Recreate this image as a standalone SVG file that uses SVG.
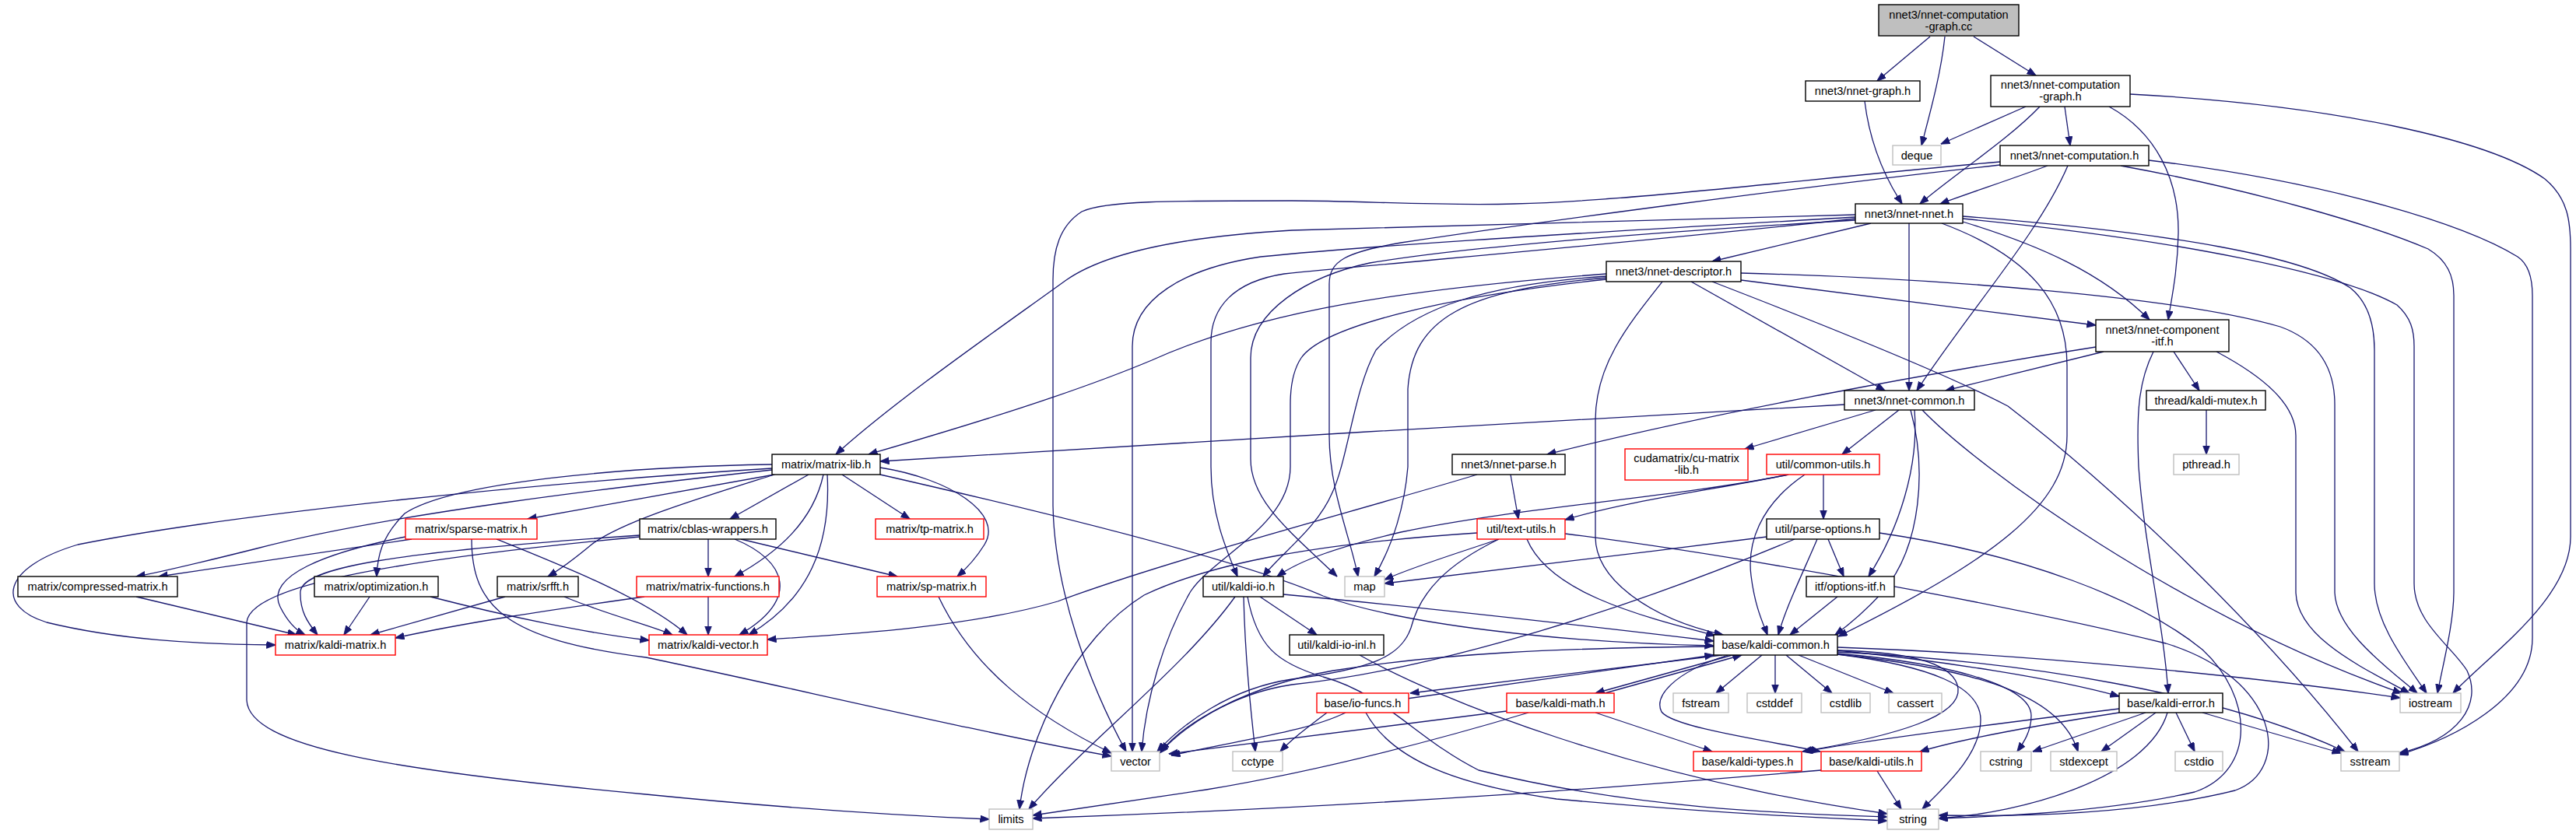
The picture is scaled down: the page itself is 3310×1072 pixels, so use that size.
<svg xmlns="http://www.w3.org/2000/svg" width="3310" height="1072" viewBox="0 0 3310 1072">
<defs>
<marker id="ah" markerUnits="userSpaceOnUse" markerWidth="12" markerHeight="10" refX="11.5" refY="4.5" orient="auto">
<path d="M0,0 L12,4.5 L0,9 z" fill="#191970" stroke="#191970" stroke-width="0.8"/>
</marker>
</defs>
<style>
rect{stroke-width:1.4}
.b{fill:#fff;stroke:#000}
.r{fill:#fff;stroke:#ff0000}
.g{fill:#fff;stroke:#bfbfbf}
.root{fill:#bfbfbf;stroke:#000}
text{font-family:"Liberation Sans",Arial,sans-serif;font-size:14.6px;text-anchor:middle;fill:#000}
#edges path{fill:none;stroke:#191970;stroke-width:1.3;marker-end:url(#ah)}
</style>
<rect x="0" y="0" width="3310" height="1072" fill="#fff"/>
<g id="edges">
<path d="M2480,47 L2412,104"/>
<path d="M2499,47 C2494,95 2480,145 2469,187"/>
<path d="M2536,47 L2616,97"/>
<path d="M2396,130 C2402,180 2420,225 2444,262"/>
<path d="M2603,137 L2494,185"/>
<path d="M2621,137 C2580,180 2510,225 2467,262"/>
<path d="M2653,137 L2660,187"/>
<path d="M2710,137 C2770,170 2800,230 2799,300 C2798,350 2790,385 2786,411"/>
<path d="M2737,121 C3000,135 3200,180 3270,230 C3300,255 3303,285 3303,320 L3303,690 C3303,770 3200,840 3152,891"/>
<path d="M2631,213 C2580,232 2530,248 2493,262"/>
<path d="M2657,213 C2620,300 2530,400 2463,502"/>
<path d="M2570,208 C2300,232 2100,258 1946,262 C1850,265 1750,258 1660,258 C1500,258 1420,258 1390,272 C1362,290 1353,320 1353,360 L1353,650 C1355,760 1400,880 1447,966"/>
<path d="M2570,212 C2300,242 2000,282 1800,312 C1730,324 1708,335 1708,365 L1708,560 C1708,630 1735,690 1745,741"/>
<path d="M2725,213 C2900,245 3050,290 3120,320 C3145,335 3153,355 3153,380 L3153,760 C3153,800 3140,850 3132,891"/>
<path d="M2761,206 C3000,235 3170,290 3235,330 C3250,340 3254,360 3254,380 L3254,820 C3254,900 3150,950 3083,970"/>
<path d="M2404,287 L2200,336"/>
<path d="M2453,287 L2453,502"/>
<path d="M2522,285 C2620,315 2700,350 2762,411"/>
<path d="M2495,287 C2610,330 2656,390 2656,470 L2656,560 C2656,650 2560,720 2362,818"/>
<path d="M2522,278 C2800,300 2960,330 3020,370 C3045,390 3051,420 3051,450 L3051,750 C3051,800 3090,850 3118,891"/>
<path d="M2522,281 C2800,308 3010,352 3080,392 C3098,408 3102,425 3102,445 L3102,750 C3102,800 3150,830 3170,862 C3190,905 3160,950 3083,968"/>
<path d="M2384,276 C2100,284 1800,290 1660,296 C1520,304 1420,325 1370,360 C1280,425 1150,515 1074,584"/>
<path d="M2384,279 C2100,296 1800,312 1620,330 C1520,345 1455,385 1455,445 L1455,966"/>
<path d="M2384,281 C2100,312 1800,337 1650,352 C1585,362 1556,395 1556,440 L1556,600 C1556,660 1575,705 1590,741"/>
<path d="M2384,283 C2100,300 1880,318 1760,338 C1680,355 1607,400 1607,460 L1607,590 C1607,645 1660,685 1718,741"/>
<path d="M2064,352 C1800,372 1620,400 1480,463 C1380,505 1250,545 1116,584"/>
<path d="M2064,355 C1909,366 1819,395 1768,450 C1740,500 1732,590 1712,633 C1692,680 1645,712 1623,741"/>
<path d="M2064,357 C1880,373 1815,410 1809,500 L1809,600 C1805,650 1790,700 1766,741"/>
<path d="M2064,359 C1850,382 1700,420 1672,460 C1660,478 1658,500 1658,520 L1658,600 C1658,675 1560,715 1530,760 C1495,820 1472,900 1467,966"/>
<path d="M2136,362 C2090,420 2050,470 2050,540 L2050,690 C2050,745 2120,795 2214,816"/>
<path d="M2173,362 L2422,502"/>
<path d="M2200,362 C2350,420 2500,480 2580,522 C2720,630 2900,800 3030,966"/>
<path d="M2237,351 C2500,358 2800,382 2930,420 C2985,440 3000,480 3000,520 L3000,760 C3000,810 3070,860 3106,891"/>
<path d="M2237,360 L2693,418"/>
<path d="M2703,452 L2500,502"/>
<path d="M2693,446 C2500,476 2200,530 1988,584"/>
<path d="M2767,452 C2748,490 2745,530 2748,600 C2755,700 2780,800 2786,891"/>
<path d="M2793,452 L2826,502"/>
<path d="M2848,452 C2910,485 2950,520 2950,560 L2950,760 C2950,820 3040,860 3096,891"/>
<path d="M2835,527 L2835,584"/>
<path d="M2370,520 C2000,540 1500,570 1131,593"/>
<path d="M2410,527 L2242,577"/>
<path d="M2440,527 L2367,584"/>
<path d="M2455,527 C2475,600 2470,700 2420,760 C2400,782 2380,800 2358,816"/>
<path d="M2460,527 C2466,600 2440,680 2401,741"/>
<path d="M2470,527 C2540,600 2800,790 3086,891"/>
<path d="M1941,610 L1951,667"/>
<path d="M1898,610 C1750,655 1500,720 1359,773 C1250,805 1100,815 986,822"/>
<path d="M2298,610 C2200,630 2100,642 2011,668"/>
<path d="M2298,610 C2150,640 1950,652 1800,684 C1720,703 1670,720 1641,741"/>
<path d="M2343,610 L2343,667"/>
<path d="M2319,610 C2260,650 2245,700 2250,740 C2255,780 2265,800 2271,816"/>
<path d="M2270,690 C2100,712 1900,735 1779,750"/>
<path d="M2306,693 C2100,780 1850,860 1660,880 C1580,892 1520,935 1490,968"/>
<path d="M2335,693 C2315,740 2295,780 2285,816"/>
<path d="M2349,693 L2369,741"/>
<path d="M2415,685 C2600,712 2750,770 2830,835 C2895,895 2900,990 2820,1018 C2700,1045 2550,1050 2491,1052"/>
<path d="M2361,767 L2300,816"/>
<path d="M1926,693 C1870,712 1820,727 1779,745"/>
<path d="M1926,693 C1860,725 1825,760 1813,807 C1800,845 1760,860 1660,873 C1580,885 1520,930 1487,966"/>
<path d="M1962,693 C1990,760 2100,790 2204,817"/>
<path d="M1898,685 C1700,698 1560,722 1470,765 C1380,820 1320,950 1310,1040"/>
<path d="M2011,686 C2250,716 2600,782 2783,827 C2930,872 2945,990 2872,1016 C2750,1046 2600,1050 2491,1048"/>
<path d="M1587,767 C1520,860 1400,950 1322,1040"/>
<path d="M1598,767 C1600,850 1608,920 1613,966"/>
<path d="M1619,767 L1692,816"/>
<path d="M1649,764 C1800,778 2000,800 2202,824"/>
<path d="M1603,767 C1615,830 1640,852 1700,870 C1780,892 1820,950 1900,990 C2100,1040 2300,1046 2425,1050"/>
<path d="M1747,842 C1850,900 2100,1000 2425,1046"/>
<path d="M1039,610 L938,667"/>
<path d="M1082,610 L1169,667"/>
<path d="M1058,610 C1045,670 1000,710 944,741"/>
<path d="M1063,610 C1068,700 1040,770 962,816"/>
<path d="M1131,601 C1220,615 1290,660 1265,700 C1255,716 1245,728 1230,741"/>
<path d="M1131,610 C1350,660 1600,722 1700,766 C1800,802 2000,826 2202,830"/>
<path d="M992,597 C800,600 580,620 520,660 C490,690 485,715 484,741"/>
<path d="M992,602 C700,620 300,660 100,700 C0,730 -5,780 60,800 C150,822 250,828 354,829"/>
<path d="M992,604 C800,625 500,660 330,705 C270,720 210,735 175,741"/>
<path d="M995,610 L678,667"/>
<path d="M995,610 C900,640 800,670 760,700 C736,720 716,734 704,741"/>
<path d="M529,693 L204,741"/>
<path d="M521,690 C420,710 340,740 360,780 C370,800 380,810 392,816"/>
<path d="M638,693 C730,730 830,770 883,816"/>
<path d="M606,693 C606,780 650,822 830,845 C1000,880 1250,940 1428,972"/>
<path d="M910,693 L910,741"/>
<path d="M944,693 C1010,720 1030,770 950,816"/>
<path d="M952,693 L1153,741"/>
<path d="M822,688 C500,710 390,730 386,760 C385,785 395,800 408,816"/>
<path d="M822,690 C450,725 320,760 317,800 L317,900 C320,960 500,990 830,1021 C1000,1038 1150,1048 1271,1053"/>
<path d="M175,767 L381,816"/>
<path d="M475,767 L442,816"/>
<path d="M553,767 C650,792 760,815 834,823"/>
<path d="M649,767 L476,816"/>
<path d="M725,767 C780,790 840,805 864,816"/>
<path d="M828,767 C700,785 600,800 508,820"/>
<path d="M910,767 L910,816"/>
<path d="M1206,767 C1250,860 1330,920 1428,968"/>
<path d="M2264,842 L2205,891"/>
<path d="M2281,842 L2281,891"/>
<path d="M2295,842 L2354,891"/>
<path d="M2311,842 L2433,891"/>
<path d="M2213,842 L1812,891"/>
<path d="M1808,898 L2202,842"/>
<path d="M2226,842 L2050,891"/>
<path d="M2062,891 L2238,842"/>
<path d="M2220,842 C2150,865 2125,895 2135,915 C2150,935 2270,952 2339,966"/>
<path d="M2361,836 C2450,838 2512,852 2516,885 C2520,920 2440,945 2316,966"/>
<path d="M2361,836 C2500,850 2640,872 2723,895"/>
<path d="M2361,832 C2600,840 2900,870 3084,897"/>
<path d="M2361,838 C2600,850 2850,890 3013,966"/>
<path d="M2361,840 C2500,852 2610,880 2610,920 C2610,940 2600,955 2592,966"/>
<path d="M2361,841 C2560,862 2650,900 2670,966"/>
<path d="M2361,841 C2480,856 2545,882 2545,925 C2545,970 2500,1010 2470,1040"/>
<path d="M2202,831 C2000,833 1850,840 1713,862 C1600,882 1520,930 1492,966"/>
<path d="M1729,916 C1680,940 1600,950 1505,971"/>
<path d="M1705,916 C1680,935 1660,950 1645,966"/>
<path d="M1755,916 C1790,980 1880,1010 2000,1027 C2200,1045 2350,1052 2425,1055"/>
<path d="M1936,914 C1800,930 1660,950 1502,969"/>
<path d="M1964,916 C1850,950 1700,990 1550,1015 C1450,1030 1380,1040 1327,1048"/>
<path d="M2050,916 L2200,966"/>
<path d="M2723,911 C2550,932 2400,952 2318,966"/>
<path d="M2723,916 C2600,935 2520,950 2467,966"/>
<path d="M2757,916 L2612,966"/>
<path d="M2770,916 L2700,966"/>
<path d="M2785,916 C2760,1000 2600,1045 2491,1052"/>
<path d="M2796,916 L2820,966"/>
<path d="M2830,916 L3008,968"/>
<path d="M2412,991 L2443,1040"/>
<path d="M2340,990 C2100,1010 1800,1035 1327,1052"/>
</g>
<g id="node-root"><rect class="root" x="2414" y="6" width="180" height="40"/><text x="2504" y="24">nnet3/nnet-computation</text><text x="2504" y="38.5">-graph.cc</text></g>
<g id="node-ng"><rect class="b" x="2320" y="104" width="147" height="26"/><text x="2393.5" y="122">nnet3/nnet-graph.h</text></g>
<g id="node-ncg"><rect class="b" x="2558" y="97" width="179" height="40"/><text x="2647.5" y="114">nnet3/nnet-computation</text><text x="2647.5" y="128.5">-graph.h</text></g>
<g id="node-deque"><rect class="g" x="2432" y="187" width="62" height="25"/><text x="2463" y="204.5">deque</text></g>
<g id="node-nc"><rect class="b" x="2570" y="187" width="191" height="26"/><text x="2665.5" y="205">nnet3/nnet-computation.h</text></g>
<g id="node-nn"><rect class="b" x="2384" y="262" width="138" height="25"/><text x="2453" y="279.5">nnet3/nnet-nnet.h</text></g>
<g id="node-nd"><rect class="b" x="2064" y="336" width="173" height="26"/><text x="2150.5" y="354">nnet3/nnet-descriptor.h</text></g>
<g id="node-nci"><rect class="b" x="2693" y="411" width="171" height="41"/><text x="2778.5" y="429">nnet3/nnet-component</text><text x="2778.5" y="443.5">-itf.h</text></g>
<g id="node-ncom"><rect class="b" x="2370" y="502" width="167" height="25"/><text x="2453.5" y="519.5">nnet3/nnet-common.h</text></g>
<g id="node-km"><rect class="b" x="2758" y="502" width="153" height="25"/><text x="2834.5" y="519.5">thread/kaldi-mutex.h</text></g>
<g id="node-pthread"><rect class="g" x="2793" y="584" width="84" height="26"/><text x="2835" y="602">pthread.h</text></g>
<g id="node-mlib"><rect class="b" x="992" y="584" width="139" height="26"/><text x="1061.5" y="602">matrix/matrix-lib.h</text></g>
<g id="node-np"><rect class="b" x="1866" y="584" width="145" height="26"/><text x="1938.5" y="602">nnet3/nnet-parse.h</text></g>
<g id="node-cu"><rect class="r" x="2088" y="577" width="158" height="40"/><text x="2167" y="594">cudamatrix/cu-matrix</text><text x="2167" y="609">-lib.h</text></g>
<g id="node-cuu"><rect class="r" x="2270" y="584" width="145" height="26"/><text x="2342.5" y="602">util/common-utils.h</text></g>
<g id="node-sparse"><rect class="r" x="521" y="667" width="169" height="26"/><text x="605.5" y="685">matrix/sparse-matrix.h</text></g>
<g id="node-cblas"><rect class="b" x="822" y="667" width="175" height="26"/><text x="909.5" y="685">matrix/cblas-wrappers.h</text></g>
<g id="node-tp"><rect class="r" x="1125" y="667" width="139" height="26"/><text x="1194.5" y="685">matrix/tp-matrix.h</text></g>
<g id="node-tu"><rect class="r" x="1898" y="667" width="113" height="26"/><text x="1954.5" y="685">util/text-utils.h</text></g>
<g id="node-po"><rect class="b" x="2270" y="667" width="145" height="26"/><text x="2342.5" y="685">util/parse-options.h</text></g>
<g id="node-cmp"><rect class="b" x="23" y="741" width="205" height="26"/><text x="125.5" y="759">matrix/compressed-matrix.h</text></g>
<g id="node-opt"><rect class="b" x="404" y="741" width="159" height="26"/><text x="483.5" y="759">matrix/optimization.h</text></g>
<g id="node-srfft"><rect class="b" x="639" y="741" width="104" height="26"/><text x="691" y="759">matrix/srfft.h</text></g>
<g id="node-mf"><rect class="r" x="818" y="741" width="183" height="26"/><text x="909.5" y="759">matrix/matrix-functions.h</text></g>
<g id="node-sp"><rect class="r" x="1127" y="741" width="140" height="26"/><text x="1197" y="759">matrix/sp-matrix.h</text></g>
<g id="node-kio"><rect class="b" x="1546" y="741" width="103" height="26"/><text x="1597.5" y="759">util/kaldi-io.h</text></g>
<g id="node-map"><rect class="g" x="1728" y="741" width="51" height="26"/><text x="1753.5" y="759">map</text></g>
<g id="node-oi"><rect class="b" x="2321" y="741" width="113" height="26"/><text x="2377.5" y="759">itf/options-itf.h</text></g>
<g id="node-kmat"><rect class="r" x="354" y="816" width="154" height="26"/><text x="431" y="834">matrix/kaldi-matrix.h</text></g>
<g id="node-kvec"><rect class="r" x="834" y="816" width="152" height="26"/><text x="910" y="834">matrix/kaldi-vector.h</text></g>
<g id="node-kioinl"><rect class="b" x="1657" y="816" width="121" height="26"/><text x="1717.5" y="834">util/kaldi-io-inl.h</text></g>
<g id="node-kc"><rect class="b" x="2202" y="816" width="159" height="26"/><text x="2281.5" y="834">base/kaldi-common.h</text></g>
<g id="node-iof"><rect class="r" x="1692" y="891" width="118" height="25"/><text x="1751" y="908.5">base/io-funcs.h</text></g>
<g id="node-kmath"><rect class="r" x="1936" y="891" width="138" height="25"/><text x="2005" y="908.5">base/kaldi-math.h</text></g>
<g id="node-fstream"><rect class="g" x="2150" y="891" width="71" height="25"/><text x="2185.5" y="908.5">fstream</text></g>
<g id="node-cstddef"><rect class="g" x="2245" y="891" width="70" height="25"/><text x="2280" y="908.5">cstddef</text></g>
<g id="node-cstdlib"><rect class="g" x="2340" y="891" width="63" height="25"/><text x="2371.5" y="908.5">cstdlib</text></g>
<g id="node-cassert"><rect class="g" x="2427" y="891" width="68" height="25"/><text x="2461" y="908.5">cassert</text></g>
<g id="node-kerr"><rect class="b" x="2723" y="891" width="133" height="25"/><text x="2789.5" y="908.5">base/kaldi-error.h</text></g>
<g id="node-iostream"><rect class="g" x="3084" y="891" width="78" height="25"/><text x="3123" y="908.5">iostream</text></g>
<g id="node-vector"><rect class="g" x="1428" y="966" width="62" height="25"/><text x="1459" y="983.5">vector</text></g>
<g id="node-cctype"><rect class="g" x="1584" y="966" width="64" height="25"/><text x="1616" y="983.5">cctype</text></g>
<g id="node-ktypes"><rect class="r" x="2176" y="966" width="139" height="25"/><text x="2245.5" y="983.5">base/kaldi-types.h</text></g>
<g id="node-kutils"><rect class="r" x="2340" y="966" width="129" height="25"/><text x="2404.5" y="983.5">base/kaldi-utils.h</text></g>
<g id="node-cstring"><rect class="g" x="2545" y="966" width="65" height="25"/><text x="2577.5" y="983.5">cstring</text></g>
<g id="node-stdexcept"><rect class="g" x="2635" y="966" width="85" height="25"/><text x="2677.5" y="983.5">stdexcept</text></g>
<g id="node-cstdio"><rect class="g" x="2795" y="966" width="61" height="25"/><text x="2825.5" y="983.5">cstdio</text></g>
<g id="node-sstream"><rect class="g" x="3008" y="966" width="75" height="25"/><text x="3045.5" y="983.5">sstream</text></g>
<g id="node-limits"><rect class="g" x="1271" y="1040" width="56" height="26"/><text x="1299" y="1058">limits</text></g>
<g id="node-string"><rect class="g" x="2425" y="1040" width="66" height="26"/><text x="2458" y="1058">string</text></g>
</svg>
